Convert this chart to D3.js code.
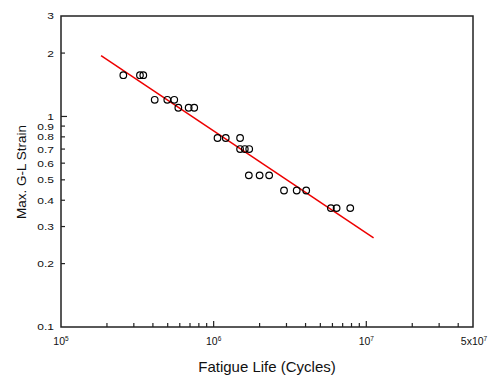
<!DOCTYPE html>
<html>
<head>
<meta charset="utf-8">
<script src="https://cdn.jsdelivr.net/npm/d3@7"></script>
<style>
  body { margin: 0; background: #fff; }
  text { font-family: "Liberation Sans", Arial, sans-serif; fill: #111; }
</style>
</head>
<body>
<div id="chart"></div>
<script>
// measured points (cycles, strain)
var cycles = [2.56e5, 3.29e5, 3.46e5, 4.11e5, 4.97e5, 5.52e5, 5.87e5, 6.86e5, 7.46e5,
              1.06e6, 1.20e6, 1.49e6, 1.49e6, 1.60e6, 1.71e6, 1.70e6, 2.00e6, 2.31e6,
              2.89e6, 3.50e6, 4.04e6, 5.86e6, 6.39e6, 7.85e6];
var strain = [1.57, 1.57, 1.57, 1.2, 1.2, 1.2, 1.1, 1.1, 1.1,
              0.79, 0.79, 0.79, 0.7, 0.7, 0.7, 0.525, 0.525, 0.525,
              0.445, 0.445, 0.445, 0.367, 0.367, 0.367];

// fitted line end points
var fitCycles = [1.83e5, 1.116e7];
var fitStrain = [1.946, 0.265];

var yTickValues = [3, 2, 1, 0.9, 0.8, 0.7, 0.6, 0.5, 0.4, 0.3, 0.2, 0.1];
var xMajorTicks = [1e5, 1e6, 1e7];
var xMinorTicks = [2e5, 3e5, 4e5, 5e5, 6e5, 7e5, 8e5, 9e5,
                   2e6, 3e6, 4e6, 5e6, 6e6, 7e6, 8e6, 9e6,
                   2e7, 3e7, 4e7];

var WIDTH = 495, HEIGHT = 379;
var MARGINS = { top: 16, right: 22, bottom: 52, left: 61 };

var svg = d3.select("#chart").append("svg")
  .attr("width", WIDTH).attr("height", HEIGHT);

var xScale = d3.scaleLog().domain([1e5, 5e7])
  .range([MARGINS.left, WIDTH - MARGINS.right]);
var yScale = d3.scaleLog().domain([0.1, 3])
  .range([HEIGHT - MARGINS.bottom, MARGINS.top]);

var x0 = xScale.range()[0], x1 = xScale.range()[1];
var y0 = yScale.range()[0], y1 = yScale.range()[1];

// frame
svg.append("rect")
  .attr("x", x0).attr("y", y1)
  .attr("width", x1 - x0).attr("height", y0 - y1)
  .attr("fill", "none").attr("stroke", "#222").attr("stroke-width", 1.5);

// y ticks (inward), labels slightly squashed like the original
var gY = svg.append("g");
yTickValues.forEach(function(v) {
  var len = (v == 1) ? 6 : 4;
  if (v != 3 && v != 0.1)
    gY.append("line")
      .attr("x1", x0).attr("x2", x0 + len)
      .attr("y1", yScale(v)).attr("y2", yScale(v))
      .attr("stroke", "#222").attr("stroke-width", 1.2);
  gY.append("text")
    .attr("transform", "translate(" + (x0 - 7) + "," + yScale(v) + ") scale(1,0.8)")
    .attr("dy", "0.36em")
    .attr("text-anchor", "end")
    .style("font-size", "12px")
    .text(v);
});

// x ticks (inward)
var gX = svg.append("g");
xMinorTicks.forEach(function(v) {
  gX.append("line")
    .attr("x1", xScale(v)).attr("x2", xScale(v))
    .attr("y1", y0).attr("y2", y0 - 4)
    .attr("stroke", "#222").attr("stroke-width", 1.2);
});
xMajorTicks.forEach(function(v) {
  var e = Math.round(Math.log10(v));
  if (v != 1e5)
    gX.append("line")
      .attr("x1", xScale(v)).attr("x2", xScale(v))
      .attr("y1", y0).attr("y2", y0 - 6)
      .attr("stroke", "#222").attr("stroke-width", 1.2);
  var t = gX.append("text")
    .attr("x", xScale(v)).attr("y", y0 + 18)
    .attr("text-anchor", "middle")
    .style("font-size", "10.5px");
  t.append("tspan").text("10");
  t.append("tspan").attr("dy", "-4.5").style("font-size", "6.5px").text(e);
});
var t5 = gX.append("text")
  .attr("x", x1 + 1).attr("y", y0 + 18)
  .attr("text-anchor", "middle")
  .style("font-size", "10.5px");
t5.append("tspan").text("5x10");
t5.append("tspan").attr("dy", "-4.5").style("font-size", "6.5px").text("7");

// axis titles
svg.append("text")
  .attr("x", 267).attr("y", 372)
  .attr("text-anchor", "middle")
  .style("font-size", "15px")
  .text("Fatigue Life (Cycles)");

svg.append("text")
  .attr("transform", "translate(26,172) rotate(-90)")
  .attr("text-anchor", "middle")
  .style("font-size", "13.5px")
  .text("Max. G-L Strain");

// fit line
var fitData = fitCycles.map(function(c, i) { return { xV: c, yV: fitStrain[i] }; });
var lineGen = d3.line()
  .x(function(d) { return xScale(d.xV); })
  .y(function(d) { return yScale(d.yV); });
svg.append("path")
  .attr("d", lineGen(fitData))
  .attr("stroke", "#ee0000").attr("stroke-width", 1.5).attr("fill", "none");

// points
var pts = cycles.map(function(c, i) { return { xV: c, yV: strain[i] }; });
svg.append("g").selectAll("circle").data(pts).enter()
  .append("circle")
  .attr("cx", function(d) { return xScale(d.xV); })
  .attr("cy", function(d) { return yScale(d.yV); })
  .attr("r", 3.3)
  .attr("fill", "none").attr("stroke", "#000").attr("stroke-width", 1.2);
</script>
</body>
</html>
